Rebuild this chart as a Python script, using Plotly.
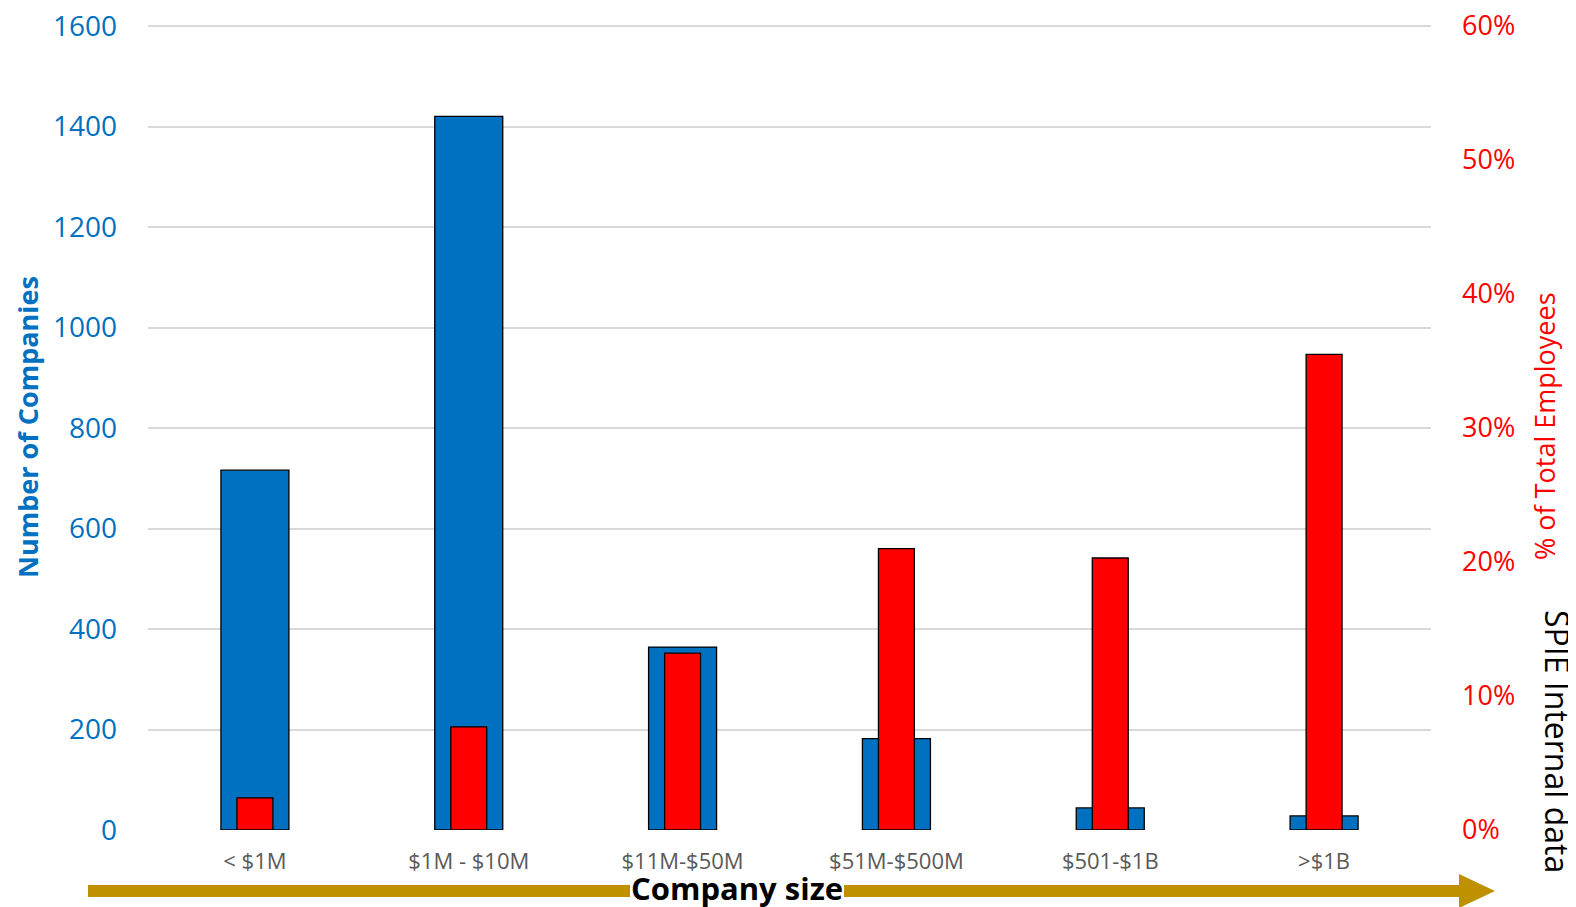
import plotly.graph_objects as go

# ---- data ----
categories = ["< $1M", "$1M - $10M", "$11M-$50M", "$51M-$500M", "$501-$1B", ">$1B"]
num_companies = [716, 1420, 364, 182, 44, 28]
pct_employees = [2.4, 7.7, 13.2, 21.0, 20.3, 35.5]
left_ticks = [0, 200, 400, 600, 800, 1000, 1200, 1400, 1600]
right_ticks = [0, 10, 20, 30, 40, 50, 60]
right_tick_labels = [f"{v}%" for v in right_ticks]

# ---- style ----
OFF = 8  # page body margin in the browser
W, H = 1576 - OFF, 907 - OFF
# plot area in page pixels: x 148..1431, y 24..830 (1600 sits at y=26)
PL, PR, PT, PB = 148, 1431, 24, 830
L, T = PL - OFF, PT - OFF
R = W - (PR - OFF)
B = H - (PB - OFF)
PW, PH = PR - PL, PB - PT
YMAX = 1600 * PH / (PB - 26)
Y2MAX = 60 * PH / (PB - 26)
BLUE = "#0070C0"
RED = "#FF0000"
GOLD = "#BF9000"
FONT = "Open Sans"


def px(xp):
    return (xp - PL) / PW


def py(yp):
    return (PB - yp) / PH


fig = go.Figure()
fig.add_trace(go.Bar(
    x=categories, y=num_companies, yaxis="y",
    width=0.318, offset=-0.159,
    marker=dict(color=BLUE, line=dict(color="black", width=1.3)),
    name="Number of Companies",
))
fig.add_trace(go.Bar(
    x=categories, y=pct_employees, yaxis="y2",
    width=0.168, offset=-0.084,
    marker=dict(color=RED, line=dict(color="black", width=1.3)),
    name="% of Total Employees",
))

fig.update_layout(
    width=W, height=H,
    margin=dict(l=L, r=R, t=T, b=B, pad=0, autoexpand=False),
    paper_bgcolor="white", plot_bgcolor="white",
    barmode="overlay", showlegend=False,
    font=dict(family=FONT),
    xaxis=dict(
        type="category", automargin=False,
        showgrid=False, zeroline=False, showline=False, ticks="",
        tickfont=dict(family=FONT, size=22, color="#595959"),
        ticklabelstandoff=16,
    ),
    yaxis=dict(
        range=[0, YMAX], tickvals=left_ticks, automargin=False,
        showgrid=True, gridcolor="#D9D9D9", gridwidth=2,
        zeroline=False, showline=False, ticks="",
        tickfont=dict(family=FONT, size=28, color=BLUE),
        ticklabelstandoff=30, ticklabeloverflow="allow",
    ),
    yaxis2=dict(
        range=[0, Y2MAX], tickvals=right_ticks, ticktext=right_tick_labels,
        tickmode="array", automargin=False,
        overlaying="y", side="right",
        showgrid=False, zeroline=False, showline=False, ticks="",
        tickfont=dict(family=FONT, size=27, color=RED),
        ticklabelstandoff=30, ticklabeloverflow="allow",
    ),
)

# Axis titles and notes
fig.add_annotation(
    text="<b>Number of Companies</b>", xref="paper", yref="paper",
    x=px(27), y=py(427), textangle=-90, showarrow=False,
    font=dict(family=FONT, size=27, color=BLUE),
    xanchor="center", yanchor="middle",
)
fig.add_annotation(
    text="% of Total Employees", xref="paper", yref="paper",
    x=px(1544), y=py(426), textangle=-90, showarrow=False,
    font=dict(family=FONT, size=27, color=RED),
    xanchor="center", yanchor="middle",
)
fig.add_annotation(
    text="SPIE Internal data", xref="paper", yref="paper",
    x=px(1558), y=py(741), textangle=90, showarrow=False,
    font=dict(family=FONT, size=32, color="black"),
    xanchor="center", yanchor="middle",
)

# Gold arrow along the bottom (shaft interrupted by the label)
ay = 891
for x0, x1 in [(88, 630), (844, 1462)]:
    fig.add_shape(
        type="line", xref="paper", yref="paper",
        x0=px(x0), x1=px(x1), y0=py(ay), y1=py(ay),
        line=dict(color=GOLD, width=12), layer="above",
    )
fig.add_shape(
    type="path", xref="paper", yref="paper",
    path=(f"M {px(1459)} {py(ay - 17)} L {px(1495)} {py(ay)} "
          f"L {px(1459)} {py(ay + 17)} Z"),
    fillcolor=GOLD, line=dict(color=GOLD, width=0), layer="above",
)
fig.add_annotation(
    text="<b>Company size</b>", xref="paper", yref="paper",
    x=px(737), y=py(888), showarrow=False,
    font=dict(family=FONT, size=31, color="black"),
    xanchor="center", yanchor="middle",
)

fig.write_html("out.html")
